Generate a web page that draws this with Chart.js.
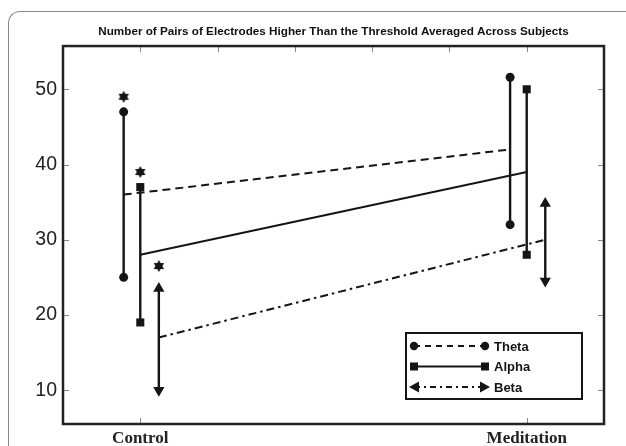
<!DOCTYPE html>
<html>
<head>
<meta charset="utf-8">
<script src="https://cdn.jsdelivr.net/npm/chart.js@4.4.0/dist/chart.umd.min.js"></script>
<style>
  body { margin: 0; background: #fff; overflow: hidden; }
  #wrap { position: relative; width: 626px; height: 446px; }
  #frame { position: absolute; left: 8px; top: 11px; width: 700px; height: 500px;
           border-left: 1.5px solid #888; border-top: 1.5px solid #888; border-top-left-radius: 12px; }
  canvas { position: absolute; left: 0; top: 0; }
</style>
</head>
<body>
<div id="wrap">
  <div id="frame"></div>
  <canvas id="graphique" width="626" height="446"></canvas>
</div>
<script>
// groupes et valeurs
const groupes = ['Control', 'Meditation'];
const groupeX = [1, 2];

const thetaMoy = [36, 42];
const thetaBas = [25, 32];
const thetaHaut = [47, 51.6];

const alphaMoy = [28, 39];
const alphaBas = [19, 28];
const alphaHaut = [37, 50];

const betaMoy = [17, 30];
const betaBas = [10, 24.5];
const betaHaut = [23.5, 34.8];

// étoiles (significativité) sur le groupe Control : theta, alpha, beta
const etoiles = [49, 39, 26.5];

const yTicks = [10, 20, 30, 40, 50];

// décalage horizontal des barres de chaque bande
const decalage = { theta: -0.043, alpha: 0, beta: 0.048 };
const noir = '#151515';

// image d'étoile à six branches
function creerEtoile(taille) {
    const c = document.createElement('canvas');
    c.width = taille; c.height = taille;
    const g = c.getContext('2d');
    const cx = taille / 2, cy = taille / 2, r = taille / 2;
    g.fillStyle = noir;
    for (let k = 0; k < 2; k++) {
        g.beginPath();
        for (let i = 0; i < 3; i++) {
            const a = -Math.PI / 2 + k * Math.PI + i * 2 * Math.PI / 3;
            const px = cx + r * Math.cos(a), py = cy + r * Math.sin(a);
            if (i === 0) g.moveTo(px, py); else g.lineTo(px, py);
        }
        g.closePath();
        g.fill();
    }
    return c;
}
const etoileImg = creerEtoile(12);

function barre(i, bande, bas, haut, style, rayon, rotation) {
    const x = groupeX[i] + decalage[bande];
    return {
        data: [{ x: x, y: bas[i] }, { x: x, y: haut[i] }],
        borderColor: noir, backgroundColor: noir, borderWidth: 2.4,
        pointStyle: style, pointRadius: rayon, pointBorderWidth: 0,
        pointRotation: rotation || 0, fill: false
    };
}

function ligneMoy(bande, moy, dash) {
    return {
        data: groupeX.map((gx, i) => ({ x: gx + decalage[bande], y: moy[i] })),
        borderColor: noir, borderWidth: 2, borderDash: dash,
        pointRadius: 0, fill: false
    };
}

const datasets = [
    ligneMoy('theta', thetaMoy, [8, 5]),
    ligneMoy('alpha', alphaMoy, []),
    ligneMoy('beta', betaMoy, [8, 4, 2.5, 4])
];
for (let i = 0; i < groupes.length; i++) {
    datasets.push(barre(i, 'theta', thetaBas, thetaHaut, 'circle', 4.5));
    datasets.push(barre(i, 'alpha', alphaBas, alphaHaut, 'rect', 5.7));
    datasets.push(barre(i, 'beta', betaBas, betaHaut, 'triangle', 6.5, [180, 0]));
}
datasets.push({
    data: ['theta', 'alpha', 'beta'].map((b, k) => ({ x: groupeX[0] + decalage[b], y: etoiles[k] })),
    showLine: false, pointStyle: etoileImg, pointRadius: 6
});

// cadre, graduations intérieures et légende
const cadrePlugin = {
    id: 'cadre',
    afterDraw(chart) {
        const ctx = chart.ctx;
        const a = chart.chartArea;
        const sx = chart.scales.x, sy = chart.scales.y;
        ctx.save();
        ctx.strokeStyle = '#888';
        ctx.lineWidth = 1;
        sy.ticks.forEach(t => {
            const py = Math.round(sy.getPixelForValue(t.value)) + 0.5;
            ctx.beginPath();
            ctx.moveTo(a.left, py); ctx.lineTo(a.left + 6, py);
            ctx.moveTo(a.right, py); ctx.lineTo(a.right - 6, py);
            ctx.stroke();
        });
        sx.ticks.forEach(t => {
            const px = Math.round(sx.getPixelForValue(t.value)) + 0.5;
            ctx.beginPath();
            ctx.moveTo(px, a.top); ctx.lineTo(px, a.top + 6);
            if (groupeX.some(g => Math.abs(g - t.value) < 1e-6)) {
                ctx.moveTo(px, a.bottom); ctx.lineTo(px, a.bottom - 6);
            }
            ctx.stroke();
        });
        ctx.strokeStyle = '#222';
        ctx.lineWidth = 2.5;
        ctx.strokeRect(a.left, a.top, a.right - a.left, a.bottom - a.top);

        // légende
        const lx = 406, ly = 333, lw = 176, lh = 66;
        ctx.fillStyle = '#fff';
        ctx.fillRect(lx, ly, lw, lh);
        ctx.lineWidth = 2;
        ctx.strokeStyle = noir;
        ctx.strokeRect(lx, ly, lw, lh);
        const entrees = [
            { nom: 'Theta', dash: [6, 5], style: 'circle' },
            { nom: 'Alpha', dash: [], style: 'rect' },
            { nom: 'Beta', dash: [6, 4, 2, 4], style: 'arrow' }
        ];
        const x1 = 414, x2 = 485;
        entrees.forEach((e, k) => {
            const y = ly + 13 + k * 20.5;
            ctx.strokeStyle = noir;
            ctx.fillStyle = noir;
            ctx.lineWidth = 1.8;
            ctx.setLineDash(e.dash);
            ctx.beginPath();
            ctx.moveTo(x1, y); ctx.lineTo(x2, y);
            ctx.stroke();
            ctx.setLineDash([]);
            [x1, x2].forEach((mx, j) => {
                ctx.beginPath();
                if (e.style === 'circle') {
                    ctx.arc(mx, y, 4.2, 0, Math.PI * 2);
                } else if (e.style === 'rect') {
                    ctx.rect(mx - 4, y - 4, 8, 8);
                } else {
                    const s = j === 0 ? -1 : 1;
                    ctx.moveTo(mx + s * 5, y);
                    ctx.lineTo(mx - s * 5, y - 5.5);
                    ctx.lineTo(mx - s * 5, y + 5.5);
                    ctx.closePath();
                }
                ctx.fill();
            });
            ctx.font = 'bold 13px "Liberation Sans", Arial, sans-serif';
            ctx.textBaseline = 'middle';
            ctx.textAlign = 'left';
            ctx.fillText(e.nom, 494, y + 1);
        });
        ctx.restore();
    }
};

const ctx = document.getElementById('graphique').getContext('2d');
new Chart(ctx, {
    type: 'line',
    data: { datasets: datasets },
    plugins: [cadrePlugin],
    options: {
        responsive: false,
        animation: false,
        devicePixelRatio: 1,
        layout: { padding: { left: 0, right: 22, top: 0, bottom: 0 } },
        plugins: {
            legend: { display: false },
            tooltip: { enabled: false },
            title: {
                display: true,
                fullSize: false,
                text: 'Number of Pairs of Electrodes Higher Than the Threshold Averaged Across Subjects',
                color: '#111',
                font: { family: '"Liberation Sans", Arial, sans-serif', size: 11.7, weight: 'bold' },
                padding: { top: 25, bottom: 7 }
            }
        },
        scales: {
            x: {
                type: 'linear',
                min: 0.8,
                max: 2.2,
                grid: { display: false, drawTicks: false },
                border: { display: false },
                ticks: {
                    stepSize: 0.2,
                    includeBounds: false,
                    autoSkip: false,
                    maxRotation: 0,
                    padding: 4,
                    color: '#222',
                    font: { family: '"Liberation Serif", "Times New Roman", serif', size: 17, weight: 'bold' },
                    callback: (v) => {
                        const i = groupeX.findIndex(g => Math.abs(g - v) < 1e-6);
                        return i >= 0 ? groupes[i] : '';
                    }
                },
                afterFit: (scale) => { scale.height = 22; }
            },
            y: {
                min: 5.5,
                max: 55.75,
                grid: { display: false, drawTicks: false },
                border: { display: false },
                afterBuildTicks: (scale) => { scale.ticks = yTicks.map(v => ({ value: v })); },
                ticks: {
                    padding: 6,
                    color: '#222',
                    font: { family: '"Liberation Sans", Arial, sans-serif', size: 19.5 }
                },
                afterFit: (scale) => { scale.width = 63; }
            }
        }
    }
});
</script>
</body>
</html>
